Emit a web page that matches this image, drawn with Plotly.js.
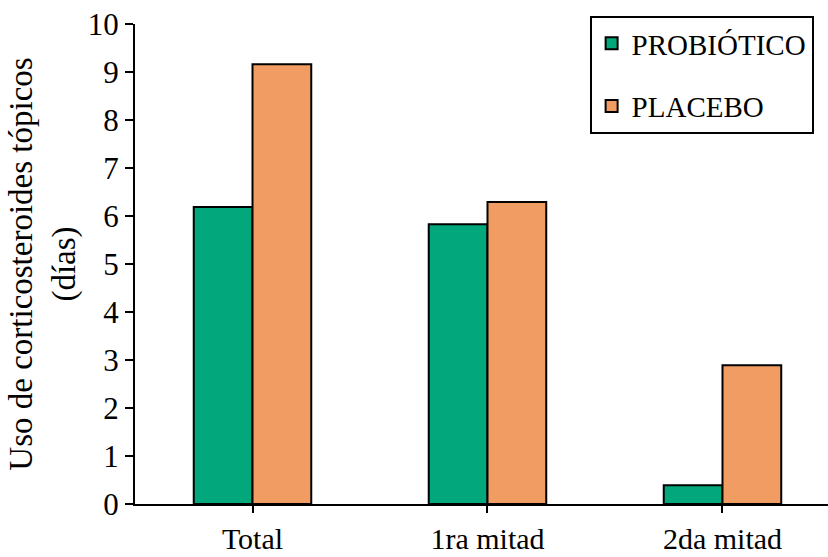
<!DOCTYPE html>
<html>
<head>
<meta charset="utf-8">
<script src="https://cdn.plot.ly/plotly-3.0.1.min.js"></script>
<style>html,body{margin:0;padding:0;background:#fff;}#chart{width:828px;height:557px;}</style>
</head>
<body>
<div id="chart"></div>
<script>
var categories = ["Total", "1ra mitad", "2da mitad"];
var probiotico = [6.19, 5.83, 0.39];
var placebo = [9.16, 6.29, 2.89];
var seriesNames = ["PROBIÓTICO", "PLACEBO"];
var yTicks = [0,1,2,3,4,5,6,7,8,9,10];

var FONT = "Liberation Serif, Times New Roman, serif";
var traces = [
  {type:"bar", name:seriesNames[0], x:categories, y:probiotico, legendgroup:"a",
   marker:{color:"#02A87B", line:{color:"#000", width:2}}},
  {type:"bar", name:seriesNames[1], x:categories, y:placebo, legendgroup:"b",
   marker:{color:"#F09C62", line:{color:"#000", width:2}}}
];
var layout = {
  width:828, height:557,
  margin:{l:135, r:0, t:24, b:53},
  paper_bgcolor:"#fff", plot_bgcolor:"#fff",
  font:{family:FONT, size:29, color:"#000"},
  barmode:"group", bargap:0.5, bargroupgap:0,
  showlegend:true,
  legend:{x:0.656, xanchor:"left", y:1.0167, yanchor:"top",
    bgcolor:"#fff", bordercolor:"#000", borderwidth:2,
    font:{family:FONT, size:29, color:"#000"},
    traceorder:"grouped", tracegroupgap:22, itemwidth:30},
  xaxis:{type:"category", range:[-0.5, 2.449], showline:true, linecolor:"#000", linewidth:2,
    ticks:"outside", ticklen:7, tickwidth:2, tickcolor:"#000", ticklabelstandoff:0,
    tickfont:{family:FONT, size:30, color:"#000"}, showgrid:false, zeroline:false, fixedrange:true},
  yaxis:{range:[0,10], tickvals:yTicks, showline:true, linecolor:"#000", linewidth:2,
    ticks:"outside", ticklen:8, tickwidth:2, tickcolor:"#000",
    tickfont:{family:FONT, size:31, color:"#000"}, showgrid:false, zeroline:false,
    title:{text:"Uso de corticosteroides tópicos<br>(días)", font:{family:FONT, size:33, color:"#000"}, standoff:2}}
};
Plotly.newPlot("chart", traces, layout, {displayModeBar:false, staticPlot:true});
</script>
</body>
</html>
